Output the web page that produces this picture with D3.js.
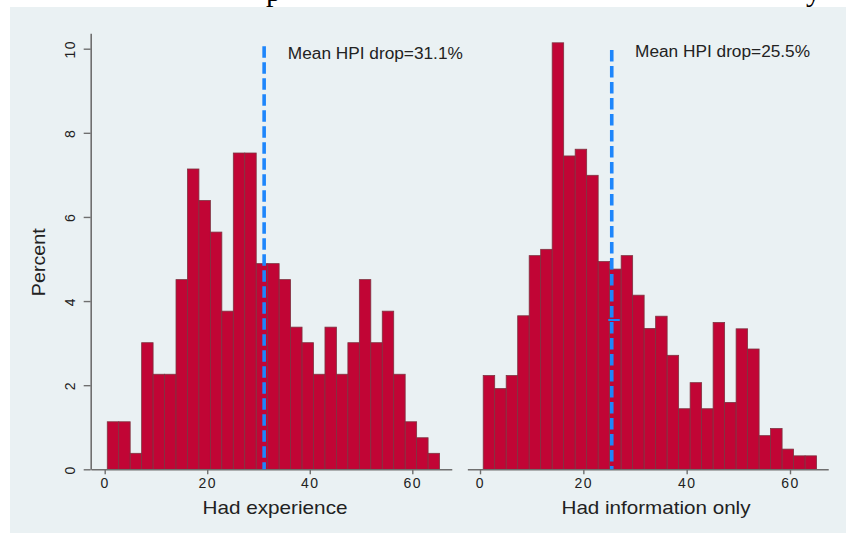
<!DOCTYPE html>
<html>
<head>
<meta charset="utf-8">
<script src="https://cdn.jsdelivr.net/npm/d3@7"></script>
<style>
  html, body { margin: 0; padding: 0; background: #ffffff; }
  svg { display: block; }
  text { font-family: "Liberation Sans", Arial, Helvetica, sans-serif; fill: #222; }
</style>
</head>
<body>
<svg id="chart" width="846" height="533"></svg>
<script>
// ---- data ----
const panelTitles = ["Had experience", "Had information only"];
const leftPct  = [1.13,1.13,0.38,3.01,2.26,2.26,4.51,7.14,6.39,5.64,3.76,7.52,7.52,4.89,4.89,
                  4.51,3.38,3.01,2.26,3.38,2.26,3.01,4.51,3.01,3.76,2.26,1.13,0.75,0.38];
const rightPct = [2.23,1.92,2.23,3.65,5.08,5.23,10.14,7.45,7.61,6.99,4.94,4.76,5.08,4.14,3.35,
                  3.64,2.71,1.44,2.06,1.44,3.49,1.59,3.34,2.86,0.80,0.97,0.48,0.32,0.32];
const binStarts = [0.5, 0.62];
const binWidths = [2.235, 2.225];
const meanDrops = [31.1, 25.5];
const meanLabels = ["Mean HPI drop=31.1%", "Mean HPI drop=25.5%"];
const xTicks = [0, 20, 40, 60];
const yTicks = [0, 2, 4, 6, 8, 10];
const yTitle = "Percent";

// ---- layout ----
const svg = d3.select("#chart");
const W = 846, H = 533;

// cropped title remnants (descenders of a document title above the figure)
svg.append("text").attr("x", 266).attr("y", 1)
  .style("font-family", "'Liberation Serif', 'Times New Roman', serif")
  .style("font-size", "30px").style("fill", "#000").text("p");
svg.append("text").attr("x", 806).attr("y", 1)
  .style("font-family", "'Liberation Serif', 'Times New Roman', serif")
  .style("font-size", "30px").style("fill", "#000").text("y");

svg.append("rect").attr("x", 10).attr("y", 7).attr("width", W - 10).attr("height", H - 7)
  .attr("fill", "#eaf1f3");

const y = d3.scaleLinear().domain([0, 10]).range([469.3, 48.7]);

const panels = [
  { data: leftPct,  x: d3.scaleLinear().domain([0, 60]).range([104.7, 412.3]), axisExt: [-2.7, 67.7],
    lineTop: 10.06, textDx: 23.7, textY: 59.3, titleX: 275, titleLen: 145, yAxis: true, tee: false },
  { data: rightPct, x: d3.scaleLinear().domain([0, 60]).range([480, 790]),    axisExt: [-2.45, 67.4],
    lineTop: 9.97, textDx: 23.3, textY: 57.3, titleX: 656, titleLen: 189, yAxis: false, tee: true }
];

panels.forEach((p, i) => {
  const g = svg.append("g");
  const x = p.x;
  const bins = p.data.map((v, k) => ({ x0: binStarts[i] + k * binWidths[i], x1: binStarts[i] + (k + 1) * binWidths[i], v }));

  // bars
  g.selectAll("rect.bar").data(bins).join("rect")
    .attr("class", "bar")
    .attr("x", d => x(d.x0))
    .attr("width", d => x(d.x1) - x(d.x0))
    .attr("y", d => y(d.v))
    .attr("height", d => y(0) - y(d.v))
    .attr("fill", "#c10535")
    .attr("stroke", "#7e3441")
    .attr("stroke-width", 0.8);

  // x axis
  const xa = x.copy().domain(p.axisExt).range(p.axisExt.map(x));
  const xg = g.append("g").attr("transform", `translate(0,${y(0)})`)
    .call(d3.axisBottom(xa).tickValues(xTicks).tickSize(5).tickPadding(4).tickSizeOuter(0).tickFormat(d3.format("d")));
  xg.select(".domain").attr("stroke", "#6f6f6f").attr("stroke-width", 1.6);
  xg.selectAll(".tick line").attr("stroke", "#6f6f6f").attr("stroke-width", 1.4);
  xg.selectAll(".tick text").style("font-size", "14px").style("letter-spacing", "1.5px").style("fill", "#222")
    .attr("font-family", null);

  // y axis (left panel only)
  if (p.yAxis) {
    const ya = y.copy().domain([0, 10.37]).range([y(0), y(10.37)]);
    const yg = g.append("g").attr("transform", `translate(90.7,0)`)
      .call(d3.axisLeft(ya).tickValues(yTicks).tickSize(7).tickSizeOuter(0).tickFormat(d3.format("d")));
    yg.select(".domain").attr("stroke", "#6f6f6f").attr("stroke-width", 1.6);
    yg.selectAll(".tick line").attr("stroke", "#6f6f6f").attr("stroke-width", 1.4);
    yg.selectAll(".tick text")
      .attr("x", 0).attr("dy", 0).attr("text-anchor", "middle")
      .attr("transform", "translate(-15.7,0) rotate(-90)")
      .style("font-size", "14px").style("letter-spacing", "1.5px").style("fill", "#222");
    svg.append("text")
      .attr("transform", `translate(45,${(y(0) + y(10.37)) / 2 + 11}) rotate(-90)`)
      .attr("text-anchor", "middle")
      .style("font-size", "19px")
      .attr("textLength", 68).attr("lengthAdjust", "spacingAndGlyphs")
      .text(yTitle);
  }

  // mean line
  g.append("line")
    .attr("x1", x(meanDrops[i])).attr("x2", x(meanDrops[i]))
    .attr("y1", y(p.lineTop)).attr("y2", y(0))
    .attr("stroke", "#1e86fb").attr("stroke-width", 3.6)
    .attr("stroke-dasharray", "11.5,4.5");
  if (p.tee) {
    g.append("line")
      .attr("x1", x(meanDrops[i]) - 3.5).attr("x2", x(meanDrops[i]) + 8)
      .attr("y1", y(3.55)).attr("y2", y(3.55))
      .attr("stroke", "#1e86fb").attr("stroke-width", 2);
  }
  g.append("text")
    .attr("x", x(meanDrops[i]) + p.textDx).attr("y", p.textY)
    .style("font-size", "16px")
    .attr("textLength", 175).attr("lengthAdjust", "spacingAndGlyphs")
    .text(meanLabels[i]);

  // x title
  g.append("text")
    .attr("x", p.titleX).attr("y", 514)
    .attr("text-anchor", "middle")
    .style("font-size", "19px")
    .attr("textLength", p.titleLen).attr("lengthAdjust", "spacingAndGlyphs")
    .text(panelTitles[i]);
});
</script>
</body>
</html>
